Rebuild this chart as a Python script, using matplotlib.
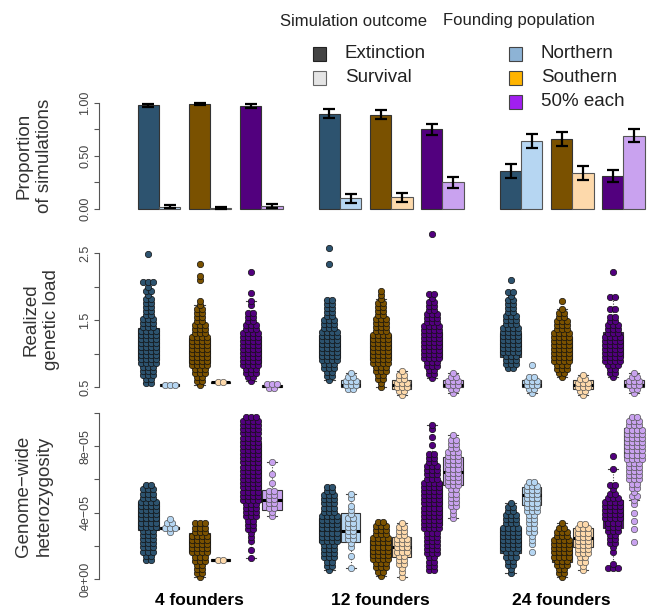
import numpy as np
import matplotlib
matplotlib.use("Agg")
import matplotlib.pyplot as plt
from matplotlib.patches import Rectangle

# ---Configuration---
W, H = 659, 608
LEFT, RIGHT = 99, 655          # axes extent in pixels
BAR_PX = 21.3                  # one bar width in pixels
X0, PAIR_GAP, GROUP_GAP = 2.32, 2.4, 8.5
ROW_DX = 5.0 / BAR_PX          # horizontal spacing of swarm points
PT_SIZE = 21
LOAD_STEP = 0.06
HET_STEP = 0.25                # in units of 1e-5

plt.rcParams['font.family'] = ['Liberation Sans', 'DejaVu Sans']

groups = ["4 founders", "12 founders", "24 founders"]
pops = ["Northern", "Southern", "50% each"]

ext_colors = ["#2d536f", "#7a5100", "#52007e"]
surv_colors = ["#b6d6f2", "#fdd9ab", "#c9a2ef"]

# proportion of simulations (rows: founders, cols: population)
prop_ext = [[0.98, 0.99, 0.975], [0.90, 0.89, 0.75], [0.36, 0.66, 0.31]]
prop_surv = [[0.02, 0.01, 0.025], [0.10, 0.11, 0.25], [0.64, 0.34, 0.69]]
err_ext = [[0.015, 0.012, 0.018], [0.045, 0.045, 0.055], [0.065, 0.065, 0.06]]
err_surv = [[0.015, 0.012, 0.018], [0.045, 0.045, 0.055], [0.065, 0.065, 0.06]]

# realized genetic load: (lowest row, points per row going up by LOAD_STEP)
load_ext = [
    [(0.56, [2, 2, 3, 3, 3, 4, 4, 4, 4, 4, 4, 4, 4, 4, 3, 3, 3, 2, 2, 2, 2, 2, 1, 2, 1, 3, 0, 0, 0, 0, 0, 0, 1]),
     (0.53, [1, 2, 2, 3, 3, 4, 4, 4, 4, 4, 4, 4, 4, 3, 3, 3, 2, 2, 2, 2, 1, 1, 0, 0, 0, 0, 1, 1, 0, 0, 1]),
     (0.59, [1, 2, 3, 3, 4, 4, 4, 4, 4, 4, 4, 4, 4, 3, 3, 2, 2, 2, 0, 1, 1, 0, 1, 0, 0, 0, 0, 1])],
    [(0.60, [1, 2, 2, 3, 3, 4, 4, 4, 4, 4, 4, 4, 4, 3, 3, 3, 2, 2, 2, 2, 2, 0, 0, 0, 0, 0, 0, 0, 0, 1, 0, 0, 0, 1]),
     (0.50, [1, 1, 2, 2, 3, 3, 4, 4, 4, 4, 4, 4, 4, 4, 3, 3, 3, 3, 2, 2, 2, 2, 1, 1, 1]),
     (0.63, [1, 2, 2, 3, 3, 4, 4, 4, 4, 4, 4, 4, 4, 4, 3, 3, 3, 2, 2, 2, 1, 2,
             0, 0, 0, 0, 0, 0, 0, 0, 0, 0, 0, 0, 0, 0, 1])],
    [(0.78, [2, 3, 3, 3, 4, 4, 4, 4, 4, 4, 4, 3, 3, 3, 2, 2, 2, 2, 1, 2, 0, 0, 1]),
     (0.65, [1, 2, 3, 3, 4, 4, 4, 4, 4, 4, 4, 4, 3, 3, 3, 2, 2, 1, 0, 1]),
     (0.65, [1, 2, 2, 3, 4, 4, 4, 4, 4, 4, 4, 3, 3, 3, 2, 2, 0, 2, 0, 0, 2, 0, 0, 0, 0, 0, 1])],
]
load_surv = [
    [(0.53, [3]), (0.57, [2]), (0.48, [2, 3])],
    [(0.47, [2, 3, 3, 2, 1]), (0.38, [1, 2, 3, 3, 2, 2, 1]), (0.41, [1, 2, 3, 3, 2, 1])],
    [(0.41, [1, 2, 3, 3, 2, 0, 0, 1]), (0.38, [1, 2, 3, 3, 2, 1]), (0.41, [1, 2, 3, 3, 2, 1])],
]
# box: [q1, median, q3]
load_ext_box = [
    [[0.90, 1.10, 1.38], [0.86, 1.02, 1.23], [0.86, 1.04, 1.26]],
    [[0.93, 1.13, 1.28], [0.90, 1.10, 1.28], [0.93, 1.13, 1.32]],
    [[0.95, 1.13, 1.31], [0.90, 1.10, 1.25], [0.95, 1.17, 1.32]],
]
load_surv_box = [
    [[0.52, 0.53, 0.54], [0.56, 0.57, 0.58], [0.50, 0.51, 0.53]],
    [[0.50, 0.53, 0.60], [0.47, 0.53, 0.60], [0.50, 0.53, 0.60]],
    [[0.50, 0.53, 0.60], [0.47, 0.53, 0.60], [0.50, 0.53, 0.60]],
]

# genome-wide heterozygosity (x 1e-5): (lowest row, points per row going up by HET_STEP)
het_ext = [
    [(1.15, [2, 2, 3, 3, 3, 3, 3, 3, 4, 4, 4, 4, 4, 4, 4, 3, 3, 3, 2]),
     (0.10, [1, 2, 2, 2, 3, 3, 4, 4, 4, 4, 4, 3, 3, 3]),
     (1.27, [1, 0, 1, 0, 1, 1, 1, 2, 2, 2, 3, 3, 3, 3,
             4, 4, 4, 4, 4, 4, 4, 4, 4, 4, 4, 4, 4, 4, 4, 4, 4, 4, 4, 4, 3])],
    [(0.55, [1, 2, 2, 3, 3, 3, 3, 4, 4, 4, 4, 4, 4, 4, 3, 3, 3, 3, 3, 2, 2]),
     (0.20, [1, 2, 3, 3, 4, 4, 4, 4, 4, 4, 3, 3, 3, 2]),
     (0.55, [2, 2, 2, 2, 3, 3, 3, 3, 3, 3, 4, 4, 4, 4, 4, 4, 4, 4, 4, 4, 4, 4,
             3, 3, 3, 3, 2, 2, 2, 0, 1, 0, 1, 0, 1, 1])],
    [(0.35, [1, 1, 2, 2, 3, 3, 4, 4, 4, 4, 4, 4, 3, 3, 3, 2, 2, 1]),
     (0.10, [1, 2, 2, 3, 3, 4, 4, 4, 4, 4, 3, 3, 2, 1]),
     (0.65, [3, 1, 0, 0, 1, 1, 2, 2, 2, 3, 3, 3, 4, 4, 4, 4, 4, 3, 2, 1, 2, 0, 0, 0, 1, 0, 0, 1])],
]
het_surv = [
    [(2.85, [1, 3, 2, 1]), (1.14, [2]), (3.80, [1, 1, 2, 2, 2, 2, 2, 0, 1, 0, 1, 0, 0, 1])],
    [(0.65, [1, 0, 0, 1, 0, 1, 1, 2, 2, 2, 2, 2, 2, 1, 1, 1, 0, 1, 1]),
     (0.15, [1, 1, 1, 2, 2, 2, 3, 3, 3, 3, 2, 2, 2, 1]),
     (3.65, [1, 1, 1, 2, 2, 2, 2, 2, 3, 3, 3, 3, 3, 3, 3, 3, 3, 2, 2, 2, 1])],
    [(1.60, [1, 0, 1, 1, 1, 2, 2, 2, 2, 2, 3, 3, 3, 3, 3, 3, 3, 2]),
     (0.55, [1, 1, 2, 2, 3, 3, 3, 3, 3, 3, 3, 2]),
     (2.25, [1, 0, 0, 1, 0, 1, 0, 1, 0, 1, 1, 2, 1, 2, 2, 3, 3, 3, 3, 3,
             4, 4, 4, 4, 4, 4, 4, 4, 3, 3, 2])],
]
het_ext_box = [
    [[2.95, 3.86, 4.64], [1.63, 2.23, 2.77], [4.64, 6.45, 8.19]],
    [[2.23, 2.95, 3.67], [1.33, 1.75, 2.35], [3.25, 4.58, 5.84]],
    [[1.57, 2.23, 3.07], [1.02, 1.63, 2.23], [3.07, 3.86, 4.76]],
]
het_surv_box = [
    [[3.02, 3.07, 3.12], [1.10, 1.14, 1.18], [4.16, 4.76, 5.36]],
    [[2.23, 2.90, 3.98], [1.33, 1.93, 2.53], [5.66, 6.45, 7.35]],
    [[4.46, 5.06, 5.54], [1.93, 2.47, 3.07], [7.35, 8.50, 9.10]],
]


def ext_x(g, p):
    return X0 + g * GROUP_GAP + p * PAIR_GAP


def panel(fig, top, bottom, v1, p1, v2, p2, ticks, labels):
    ax = fig.add_axes([LEFT / W, 1 - bottom / H, (RIGHT - LEFT) / W, (bottom - top) / H])
    scale = (v2 - v1) / (p1 - p2)
    ax.set_ylim(v1 - (bottom - p1) * scale, v2 + (p2 - top) * scale)
    ax.set_xlim(0, (RIGHT - LEFT) / BAR_PX)
    for s in ["top", "right", "bottom"]:
        ax.spines[s].set_visible(False)
    ax.spines["left"].set_bounds(v1, v2)
    ax.spines["left"].set_color("#555555")
    ax.spines["left"].set_linewidth(0.8)
    ax.set_xticks([])
    ax.set_yticks(ticks)
    ax.set_yticklabels(labels, rotation=90, va="center", fontsize=9, color="#444444")
    ax.tick_params(axis="y", length=3.6, width=0.8, color="#555555", pad=2)
    return ax


def swarm(ax, xc, start, counts, step, scale, box, color, edge, width):
    xs, ys = [], []
    for i, c in enumerate(counts):
        for k in range(c):
            xs.append(xc + (k - (c - 1) / 2) * ROW_DX)
            ys.append((start + i * step) * scale)
    ys_arr = np.array(ys)
    q1, med, q3 = [v * scale for v in box]
    iqr = q3 - q1
    lo = ys_arr[ys_arr >= q1 - 1.5 * iqr].min()
    hi = ys_arr[ys_arr <= q3 + 1.5 * iqr].max()
    stats = [{"med": med, "q1": q1, "q3": q3, "whislo": min(lo, q1),
              "whishi": max(hi, q3), "fliers": []}]
    ax.bxp(stats, positions=[xc], widths=width, patch_artist=True, showfliers=False,
           boxprops=dict(facecolor=color, edgecolor="#333333", linewidth=0.8),
           medianprops=dict(color="black", linewidth=2.2),
           whiskerprops=dict(color="#444444", linewidth=0.8, linestyle=(0, (1, 1.5))),
           capprops=dict(color="#444444", linewidth=0.8),
           manage_ticks=False)
    ax.scatter(xs, ys, s=PT_SIZE, c=color, edgecolors=edge, linewidths=0.5,
               zorder=4, clip_on=False)


fig = plt.figure(figsize=(W / 100, H / 100), dpi=100)

# ---Top panel: proportion of simulations---
ax1 = panel(fig, 95, 212, 0.0, 209, 1.0, 103, [0, 0.25, 0.5, 0.75, 1.0],
            ["0.00", "", "0.50", "", "1.00"])
for g in range(3):
    for p in range(3):
        x = ext_x(g, p)
        ax1.bar(x, prop_ext[g][p], width=1, color=ext_colors[p], edgecolor="#333333", linewidth=0.8)
        ax1.bar(x + 1, prop_surv[g][p], width=1, color=surv_colors[p], edgecolor="#555555", linewidth=0.8)
        ax1.errorbar([x, x + 1], [prop_ext[g][p], prop_surv[g][p]],
                     yerr=[err_ext[g][p], err_surv[g][p]], fmt="none", ecolor="black",
                     elinewidth=1.6, capsize=4, capthick=1.6, zorder=5)

# ---Middle panel: realized genetic load---
ax2 = panel(fig, 228, 398, 0.5, 387, 2.5, 253, [0.5, 1.0, 1.5, 2.0, 2.5],
            ["0.5", "", "1.5", "", "2.5"])
# ---Bottom panel: heterozygosity---
ax3 = panel(fig, 405, 590, 0.0, 579, 1e-4, 413, [0, 2e-5, 4e-5, 6e-5, 8e-5, 1e-4],
            ["0e+00", "", "4e\u221205", "", "8e\u221205", ""])

for g in range(3):
    for p in range(3):
        x = ext_x(g, p)
        s, c = load_ext[g][p]
        swarm(ax2, x, s, c, LOAD_STEP, 1.0, load_ext_box[g][p], ext_colors[p], "#111111", 0.95)
        s, c = load_surv[g][p]
        swarm(ax2, x + 1, s, c, LOAD_STEP, 1.0, load_surv_box[g][p], surv_colors[p], "#555555", 0.9)
        s, c = het_ext[g][p]
        swarm(ax3, x, s, c, HET_STEP, 1e-5, het_ext_box[g][p], ext_colors[p], "#111111", 0.95)
        s, c = het_surv[g][p]
        swarm(ax3, x + 1, s, c, HET_STEP, 1e-5, het_surv_box[g][p], surv_colors[p], "#555555", 0.9)

ax3.set_xticks([ext_x(g, 1) for g in range(3)])
ax3.set_xticklabels(groups, fontsize=12.5, fontweight="bold")
ax3.tick_params(axis="x", length=0, pad=2)

# ---Y axis titles---
fig.text(34 / W, 1 - 156 / H, "Proportion\nof simulations", rotation=90, ha="center",
         va="center", multialignment="center", fontsize=13.5, color="#333333", linespacing=1.25)
fig.text(41 / W, 1 - 320 / H, "Realized\ngenetic load", rotation=90, ha="center",
         va="center", multialignment="center", fontsize=13.5, color="#333333", linespacing=1.25)
fig.text(34 / W, 1 - 496 / H, "Genome\u2212wide\nheterozygosity", rotation=90, ha="center",
         va="center", multialignment="center", fontsize=13.5, color="#333333", linespacing=1.25)

# ---Legends---
fig.text(280 / W, 1 - 21 / H, "Simulation outcome", fontsize=12, va="center", color="#222222")
fig.text(443 / W, 1 - 21 / H, "Founding population", fontsize=12, va="center", color="#222222")
legend_rows = [
    (319, 54, "#444444", "#222222", "Extinction"),
    (319, 78, "#e4e4e4", "#666666", "Survival"),
    (515, 54, "#8db3d5", "#444444", "Northern"),
    (515, 78, "#ffb400", "#444444", "Southern"),
    (515, 102, "#a11ff0", "#444444", "50% each"),
]
for cx, cy, fc, ec, label in legend_rows:
    fig.add_artist(Rectangle(((cx - 6.5) / W, 1 - (cy + 6.5) / H), 13 / W, 13 / H,
                             transform=fig.transFigure, facecolor=fc, edgecolor=ec, linewidth=0.8))
    fig.text((cx + 26) / W, 1 - cy / H, label, fontsize=13.5, va="center", color="#222222")

fig.savefig("out.png", dpi=100)
